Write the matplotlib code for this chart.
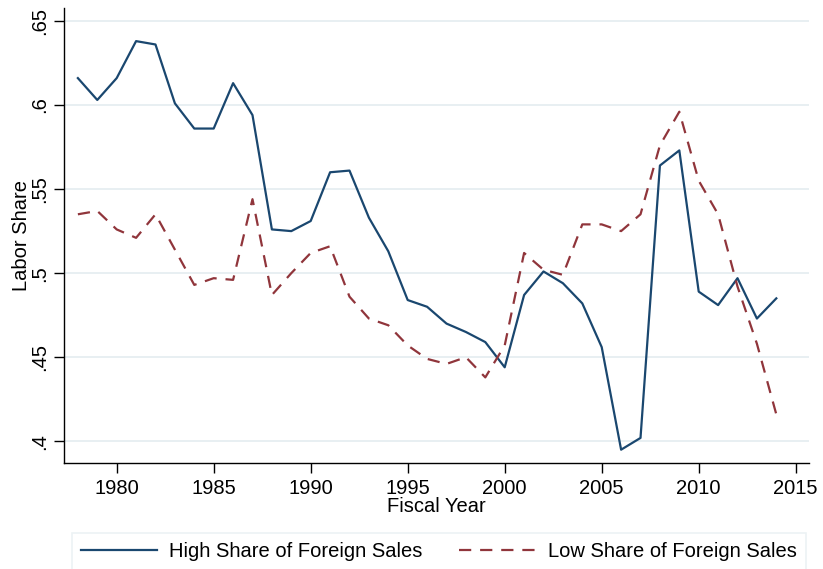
"""
Labor share by fiscal year: high vs low share of foreign sales (Stata-style line chart)
Output: out.png
"""
import matplotlib as mpl
import matplotlib.pyplot as plt
from matplotlib.lines import Line2D

mpl.rcParams.update({
    "font.family": ["Liberation Sans", "DejaVu Sans"],
    "font.size": 14.5,
})

C_BLUE = "#1a476f"; C_RED = "#90353b"; C_GRID = "#e8eff2"; C_DARK = "#000000"

years = list(range(1978, 2015))
high_share = [0.616, 0.603, 0.616, 0.638, 0.636, 0.601, 0.586, 0.586, 0.613, 0.594,
              0.526, 0.525, 0.531, 0.560, 0.561, 0.533, 0.513, 0.484, 0.480, 0.470,
              0.465, 0.459, 0.444, 0.487, 0.501, 0.494, 0.482, 0.456, 0.395, 0.402,
              0.564, 0.573, 0.489, 0.481, 0.497, 0.473, 0.485]
low_share = [0.535, 0.537, 0.526, 0.521, 0.535, 0.514, 0.493, 0.497, 0.496, 0.544,
             0.487, 0.500, 0.512, 0.516, 0.486, 0.473, 0.469, 0.457, 0.449, 0.446,
             0.450, 0.438, 0.457, 0.512, 0.502, 0.499, 0.529, 0.529, 0.525, 0.535,
             0.576, 0.596, 0.555, 0.535, 0.492, 0.458, 0.416]
x_ticks = [1980, 1985, 1990, 1995, 2000, 2005, 2010, 2015]
y_ticks = [0.4, 0.45, 0.5, 0.55, 0.6, 0.65]
y_labels = [".4", ".45", ".5", ".55", ".6", ".65"]

W, H = 823, 569
fig = plt.figure(figsize=(W/100, H/100), dpi=100)
ax = fig.add_axes([64.3/W, 1-463.3/H, (809.3-64.3)/W, (463.3-8)/H])

DASH = (0, (5.5, 4))
ax.plot(years, high_share, color=C_BLUE, lw=1.6, zorder=3)
ax.plot(years, low_share, color=C_RED, lw=1.6, ls=DASH, zorder=3)

ax.set_xlim(1977.3, 2015.7)
ax.set_ylim(0.3869, 0.6577)
ax.set_xticks(x_ticks)
ax.set_yticks(y_ticks)
ax.set_yticklabels(y_labels, rotation=90, va="center")
for y in y_ticks:
    ax.axhline(y, color=C_GRID, lw=1.4, zorder=1)

for s in ["top", "right"]:
    ax.spines[s].set_visible(False)
for s in ["left", "bottom"]:
    ax.spines[s].set_linewidth(1.0)
ax.tick_params(axis="both", length=7, width=1.0, pad=4, labelsize=14.5, colors=C_DARK)

ax.set_xlabel("Fiscal Year", fontsize=14.5)
ax.set_ylabel("Labor Share", fontsize=14.5)
ax.xaxis.set_label_coords(0.5, -0.074)
ax.yaxis.set_label_coords(-0.045, 0.5)

handles = [
    Line2D([], [], color=C_BLUE, lw=1.6),
    Line2D([], [], color=C_RED, lw=1.6, ls=DASH),
]
leg = fig.legend(handles, ["High Share of Foreign Sales", "Low Share of Foreign Sales"],
                 loc="upper left", bbox_to_anchor=(71.7/W, 1-532.7/H, (806-71.7)/W, 0),
                 mode="expand", ncol=2, frameon=True, fancybox=False, handlelength=3.8,
                 handletextpad=0.6, columnspacing=1.5, borderpad=0.45, fontsize=14.5,
                 borderaxespad=0)
leg.get_frame().set_edgecolor(C_GRID)
leg.get_frame().set_linewidth(1.2)

fig.savefig("out.png", dpi=100)
plt.close()
